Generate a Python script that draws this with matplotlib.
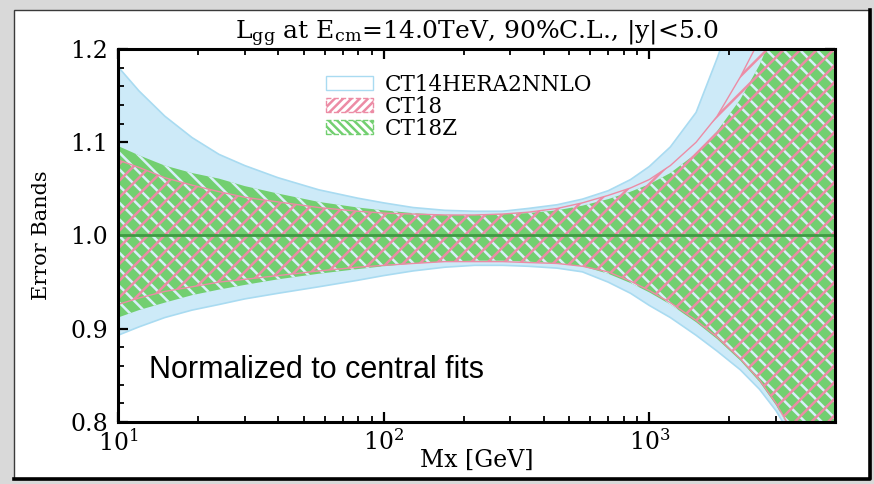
import matplotlib
matplotlib.use('Agg')
import matplotlib.pyplot as plt
from matplotlib.patches import Patch, Rectangle
from matplotlib.lines import Line2D
from matplotlib.ticker import MultipleLocator, LogLocator, NullFormatter

# ---------------- data ----------------
mx = [10, 12, 15, 19, 24, 30, 40, 57, 80, 100, 129, 170, 220, 280, 350, 450,
      560, 700, 850, 1000, 1200, 1500, 1800, 2200, 2600, 3000, 3500, 4200, 5000]

ct14_up = [1.181, 1.155, 1.128, 1.105, 1.087, 1.075, 1.062, 1.049, 1.040, 1.035,
           1.030, 1.027, 1.026, 1.026, 1.029, 1.033, 1.039, 1.048, 1.060, 1.074,
           1.095, 1.132, 1.190, 1.260, 1.340, 1.430, 1.550, 1.720, 1.950]
ct14_lo = [0.893, 0.902, 0.912, 0.920, 0.926, 0.932, 0.938, 0.945, 0.952, 0.957,
           0.962, 0.966, 0.968, 0.968, 0.967, 0.965, 0.961, 0.950, 0.938, 0.925,
           0.912, 0.893, 0.876, 0.856, 0.835, 0.812, 0.780, 0.730, 0.670]

ct18_up = [1.081, 1.073, 1.062, 1.054, 1.047, 1.041, 1.036, 1.030, 1.026, 1.024,
           1.023, 1.022, 1.022, 1.023, 1.025, 1.029, 1.035, 1.043, 1.051, 1.060,
           1.075, 1.100, 1.128, 1.170, 1.210, 1.260, 1.330, 1.440, 1.580]
ct18_lo = [0.926, 0.933, 0.940, 0.945, 0.950, 0.953, 0.957, 0.962, 0.966, 0.968,
           0.970, 0.972, 0.972, 0.972, 0.971, 0.970, 0.967, 0.961, 0.951, 0.941,
           0.928, 0.909, 0.891, 0.868, 0.845, 0.820, 0.787, 0.737, 0.682]

ct18z_up = [1.096, 1.086, 1.075, 1.067, 1.061, 1.053, 1.045, 1.036, 1.030, 1.027,
            1.024, 1.022, 1.022, 1.023, 1.024, 1.027, 1.032, 1.039, 1.047, 1.055,
            1.067, 1.088, 1.112, 1.146, 1.183, 1.225, 1.280, 1.370, 1.480]
ct18z_lo = [0.912, 0.920, 0.928, 0.936, 0.942, 0.947, 0.953, 0.959, 0.964, 0.967,
            0.970, 0.972, 0.973, 0.973, 0.972, 0.970, 0.967, 0.959, 0.949, 0.939,
            0.926, 0.907, 0.889, 0.866, 0.843, 0.818, 0.785, 0.735, 0.680]

central = 1.0
series_names = ['CT14HERA2NNLO', 'CT18', 'CT18Z']
yticks = [0.8, 0.9, 1.0, 1.1, 1.2]
ytick_labels = ['0.8', '0.9', '1.0', '1.1', '1.2']
title = r'L$_{\mathrm{gg}}$ at E$_{\mathrm{cm}}$=14.0TeV, 90%C.L., |y|<5.0'
note = 'Normalized to central fits'

# ---------------- style ----------------
plt.rcParams['font.family'] = 'DejaVu Serif'
plt.rcParams['mathtext.fontset'] = 'dejavuserif'
plt.rcParams['hatch.linewidth'] = 1.8

c_blue_fill = '#cdeaf8'
c_blue_edge = '#a9dbf1'
c_green = '#72cf70'
c_pink = '#ec8ca5'
c_line = '#3f9a44'

W, H = 874, 484
fig = plt.figure(figsize=(W / 100, H / 100), dpi=100)
fig.patch.set_facecolor('#d9d9d9')

# white panel with dark frame and shadow
fig.add_artist(Rectangle((14 / W, 1 - 479 / H), (870 - 14) / W, (479 - 10) / H,
                         transform=fig.transFigure, facecolor='white',
                         edgecolor='#3a3a3a', lw=1.0, zorder=-10))
fig.add_artist(Line2D([14 / W, 870 / W, 870 / W], [1 - 479 / H, 1 - 479 / H, 1 - 10 / H],
                      transform=fig.transFigure, color='black', lw=2.6))

ax = fig.add_axes([118 / W, 1 - 422 / H, (835 - 118) / W, (422 - 49) / H])
ax.set_xscale('log')

# CT14HERA2NNLO band
ax.fill_between(mx, ct14_lo, ct14_up, facecolor=c_blue_fill, edgecolor=c_blue_edge,
                lw=1.2, zorder=1)
# CT18Z band: green with light-blue dashes
ax.fill_between(mx, ct18z_lo, ct18z_up, facecolor=c_green, edgecolor='none', lw=0, zorder=2)
ax.fill_between(mx, ct18z_lo, ct18z_up, facecolor='none', edgecolor='#d8effa',
                hatch='\\\\', lw=0, zorder=3)
# CT18 band: pink hatch
ax.fill_between(mx, ct18_lo, ct18_up, facecolor='none', edgecolor=c_pink,
                hatch='//', lw=0, zorder=4)
ax.plot(mx, ct18_up, color=c_pink, lw=1.0, zorder=4)
ax.plot(mx, ct18_lo, color=c_pink, lw=1.0, zorder=4)

ax.axhline(central, color=c_line, lw=2.0, zorder=5)

ax.set_xlim(10, 5000)
ax.set_ylim(0.8, 1.2)
ax.set_yticks(yticks)
ax.set_yticklabels(ytick_labels)
ax.yaxis.set_minor_locator(MultipleLocator(0.02))
ax.xaxis.set_minor_locator(LogLocator(base=10, subs=range(2, 10)))
ax.xaxis.set_minor_formatter(NullFormatter())

for s in ax.spines.values():
    s.set_linewidth(2.2)
    s.set_zorder(10)
ax.tick_params(which='both', direction='in', top=True, right=True, zorder=10)
ax.tick_params(which='major', length=7, width=1.6, labelsize=17)
ax.tick_params(axis='y', which='major', pad=7)
ax.tick_params(axis='x', which='major', pad=5)
ax.tick_params(which='minor', length=4, width=1.3)

ax.set_title(title, fontsize=18, pad=3)
ax.set_xlabel('Mx [GeV]', fontsize=17, labelpad=-5)
ax.set_ylabel('Error Bands', fontsize=15, labelpad=14)

ax.text(0.043, 0.118, note, transform=ax.transAxes, family='Liberation Sans',
        fontsize=22, va='baseline', ha='left', zorder=11)

handles = [
    Patch(facecolor='white', edgecolor=c_blue_edge, lw=1.0),
    Patch(facecolor='none', edgecolor=c_pink, hatch='////', lw=1.0, linestyle='--'),
    Patch(facecolor='none', edgecolor=c_green, hatch='\\\\\\\\', lw=1.0, linestyle='--'),
]
ax.legend(handles, series_names, loc='upper left', bbox_to_anchor=(0.29, 0.934),
          frameon=False, fontsize=15.5, handlelength=2.2, handleheight=0.6,
          handletextpad=0.55, labelspacing=0.0, borderpad=0, borderaxespad=0)

fig.savefig('out.png', dpi=100)
